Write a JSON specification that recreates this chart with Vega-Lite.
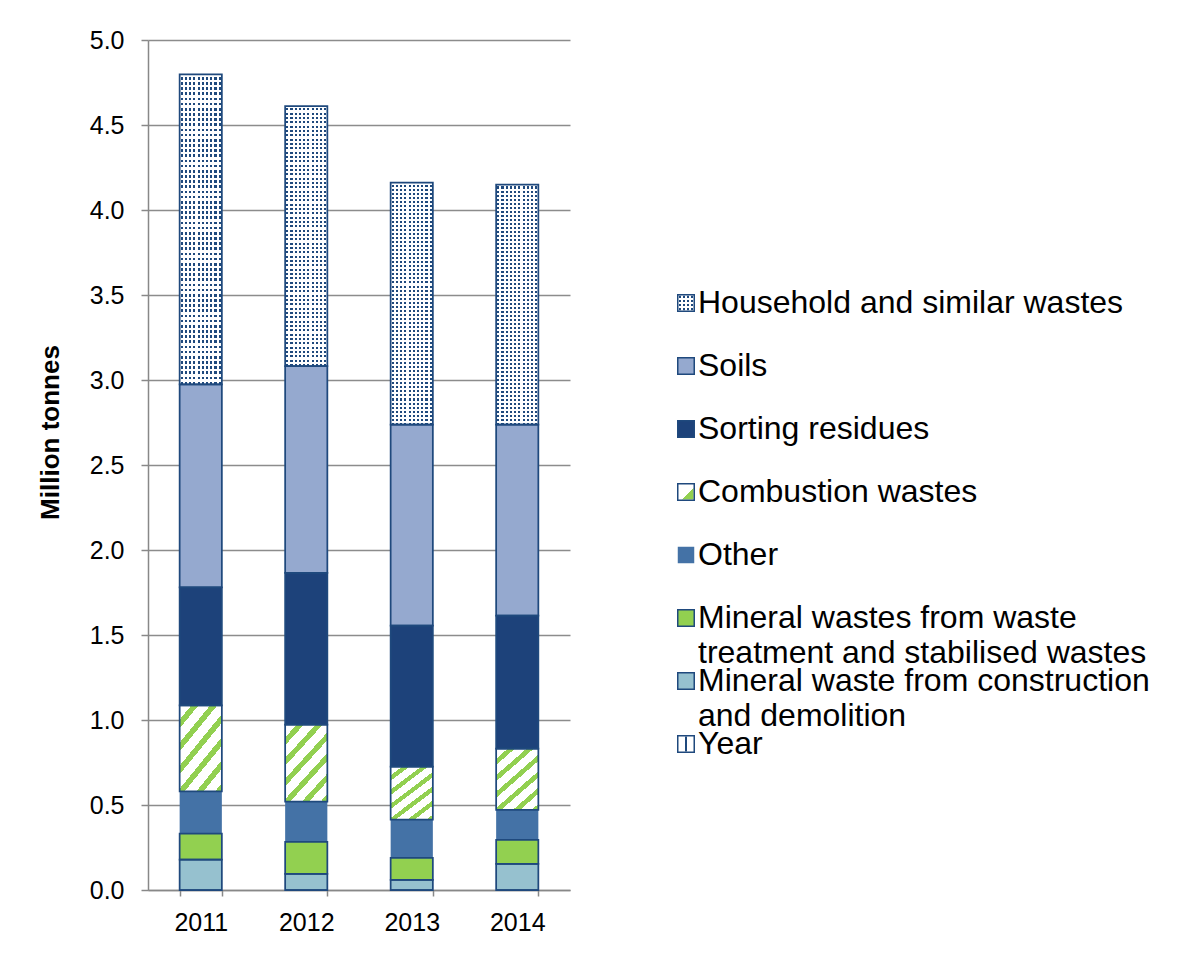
{
  "$schema": "https://vega.github.io/schema/vega-lite/v6.json",
  "background": "white",
  "padding": {"left": 37, "top": 28, "right": 5, "bottom": 5},
  "bounds": "flush",
  "spacing": 107,
  "config": {
    "font": "Liberation Sans",
    "view": {"stroke": null},
    "axis": {"labelColor": "#000", "titleColor": "#000", "labelFont": "Liberation Sans", "titleFont": "Liberation Sans"}
  },
  "data": {
    "values": [
      {"year": "2011", "category": "Year", "value": 0},
      {"year": "2011", "category": "Mineral waste from construction\nand demolition", "value": 0.178},
      {"year": "2011", "category": "Mineral wastes from waste\ntreatment and stabilised wastes", "value": 0.153},
      {"year": "2011", "category": "Other", "value": 0.249},
      {"year": "2011", "category": "Combustion wastes", "value": 0.506},
      {"year": "2011", "category": "Sorting residues", "value": 0.694},
      {"year": "2011", "category": "Soils", "value": 1.194},
      {"year": "2011", "category": "Household and similar wastes", "value": 1.824},
      {"year": "2012", "category": "Year", "value": 0},
      {"year": "2012", "category": "Mineral waste from construction\nand demolition", "value": 0.095},
      {"year": "2012", "category": "Mineral wastes from waste\ntreatment and stabilised wastes", "value": 0.188},
      {"year": "2012", "category": "Other", "value": 0.237},
      {"year": "2012", "category": "Combustion wastes", "value": 0.453},
      {"year": "2012", "category": "Sorting residues", "value": 0.893},
      {"year": "2012", "category": "Soils", "value": 1.216},
      {"year": "2012", "category": "Household and similar wastes", "value": 1.529},
      {"year": "2013", "category": "Year", "value": 0},
      {"year": "2013", "category": "Mineral waste from construction\nand demolition", "value": 0.06},
      {"year": "2013", "category": "Mineral wastes from waste\ntreatment and stabilised wastes", "value": 0.129},
      {"year": "2013", "category": "Other", "value": 0.225},
      {"year": "2013", "category": "Combustion wastes", "value": 0.312},
      {"year": "2013", "category": "Sorting residues", "value": 0.829},
      {"year": "2013", "category": "Soils", "value": 1.182},
      {"year": "2013", "category": "Household and similar wastes", "value": 1.424},
      {"year": "2014", "category": "Year", "value": 0},
      {"year": "2014", "category": "Mineral waste from construction\nand demolition", "value": 0.154},
      {"year": "2014", "category": "Mineral wastes from waste\ntreatment and stabilised wastes", "value": 0.141},
      {"year": "2014", "category": "Other", "value": 0.176},
      {"year": "2014", "category": "Combustion wastes", "value": 0.361},
      {"year": "2014", "category": "Sorting residues", "value": 0.782},
      {"year": "2014", "category": "Soils", "value": 1.124},
      {"year": "2014", "category": "Household and similar wastes", "value": 1.412}
    ]
  },
  "hconcat": [
    {
      "width": 422,
      "height": 850,
      "transform": [{"stack": "value", "groupby": ["year"], "as": ["v0", "v1"]}],
      "encoding": {
        "x": {
          "field": "year", "type": "ordinal",
          "scale": {"paddingInner": 0.6, "paddingOuter": 0.3},
          "axis": {"title": null, "labelAngle": 0, "labelFontSize": 25, "labelPadding": 14, "tickSize": 6, "tickColor": "#888", "tickWidth": 1.5, "domainColor": "#888", "domainWidth": 1.5, "tickBand": "extent", "grid": false}
        },
        "y": {
          "field": "v0", "type": "quantitative",
          "scale": {"domain": [0, 5], "nice": false},
          "axis": {"values": [0, 0.5, 1, 1.5, 2, 2.5, 3, 3.5, 4, 4.5, 5], "format": ".1f", "labelFontSize": 25, "labelPadding": 17, "tickSize": 7, "tickColor": "#888", "tickWidth": 1.5, "domainColor": "#888", "domainWidth": 1.5, "gridColor": "#8c8c8c", "gridWidth": 1.5, "title": "Million tonnes", "titleFontSize": 26, "titleFontWeight": "bold", "titleX": -98, "titleY": 392, "titleBaseline": "middle", "titleAlign": "center", "titleAngle": -90}
        },
        "y2": {"field": "v1"}
      },
      "layer": [
        {
          "mark": {"type": "bar"},
          "encoding": {
            "color": {
              "field": "category", "type": "nominal", "legend": null,
              "scale": {
                "domain": ["Household and similar wastes", "Soils", "Sorting residues", "Combustion wastes", "Other", "Mineral wastes from waste\ntreatment and stabilised wastes", "Mineral waste from construction\nand demolition", "Year"],
                "range": ["#ffffff", "#95a9cf", "#1d427a", "#ffffff", "#4472a6", "#92d050", "#96c1cf", "#ffffff"]
              }
            }
          }
        },
        {
          "transform": [{"filter": "datum.category === 'Household and similar wastes'"}],
          "mark": {"type": "bar", "fill": {"gradient": "linear", "x1": 0, "y1": 0, "x2": 1, "y2": 0, "stops": [
            {"offset": 0, "color": "#fff"}, {"offset": 0.025, "color": "#fff"},
            {"offset": 0.025, "color": "#1f497d"}, {"offset": 0.075, "color": "#1f497d"}, {"offset": 0.075, "color": "#fff"}, {"offset": 0.125, "color": "#fff"},
            {"offset": 0.125, "color": "#1f497d"}, {"offset": 0.175, "color": "#1f497d"}, {"offset": 0.175, "color": "#fff"}, {"offset": 0.225, "color": "#fff"},
            {"offset": 0.225, "color": "#1f497d"}, {"offset": 0.275, "color": "#1f497d"}, {"offset": 0.275, "color": "#fff"}, {"offset": 0.325, "color": "#fff"},
            {"offset": 0.325, "color": "#1f497d"}, {"offset": 0.375, "color": "#1f497d"}, {"offset": 0.375, "color": "#fff"}, {"offset": 0.425, "color": "#fff"},
            {"offset": 0.425, "color": "#1f497d"}, {"offset": 0.475, "color": "#1f497d"}, {"offset": 0.475, "color": "#fff"}, {"offset": 0.525, "color": "#fff"},
            {"offset": 0.525, "color": "#1f497d"}, {"offset": 0.575, "color": "#1f497d"}, {"offset": 0.575, "color": "#fff"}, {"offset": 0.625, "color": "#fff"},
            {"offset": 0.625, "color": "#1f497d"}, {"offset": 0.675, "color": "#1f497d"}, {"offset": 0.675, "color": "#fff"}, {"offset": 0.725, "color": "#fff"},
            {"offset": 0.725, "color": "#1f497d"}, {"offset": 0.775, "color": "#1f497d"}, {"offset": 0.775, "color": "#fff"}, {"offset": 0.825, "color": "#fff"},
            {"offset": 0.825, "color": "#1f497d"}, {"offset": 0.875, "color": "#1f497d"}, {"offset": 0.875, "color": "#fff"}, {"offset": 0.925, "color": "#fff"},
            {"offset": 0.925, "color": "#1f497d"}, {"offset": 0.975, "color": "#1f497d"}, {"offset": 0.975, "color": "#fff"}, {"offset": 1, "color": "#fff"}
          ]}}
        },
        {
          "transform": [{"filter": "datum.category === 'Household and similar wastes'"}],
          "mark": {"type": "bar", "fill": {"gradient": "linear", "x1": 0, "y1": 0, "x2": 0, "y2": 1, "stops": [
            {"offset": 0, "color": "#fff"}, {"offset": 0.00833, "color": "#fff"}, {"offset": 0.00833, "color": "transparent"}, {"offset": 0.01667, "color": "transparent"},
            {"offset": 0.01667, "color": "#fff"}, {"offset": 0.025, "color": "#fff"}, {"offset": 0.025, "color": "transparent"}, {"offset": 0.03333, "color": "transparent"},
            {"offset": 0.03333, "color": "#fff"}, {"offset": 0.04167, "color": "#fff"}, {"offset": 0.04167, "color": "transparent"}, {"offset": 0.05, "color": "transparent"},
            {"offset": 0.05, "color": "#fff"}, {"offset": 0.05833, "color": "#fff"}, {"offset": 0.05833, "color": "transparent"}, {"offset": 0.06667, "color": "transparent"},
            {"offset": 0.06667, "color": "#fff"}, {"offset": 0.075, "color": "#fff"}, {"offset": 0.075, "color": "transparent"}, {"offset": 0.08333, "color": "transparent"},
            {"offset": 0.08333, "color": "#fff"}, {"offset": 0.09167, "color": "#fff"}, {"offset": 0.09167, "color": "transparent"}, {"offset": 0.1, "color": "transparent"},
            {"offset": 0.1, "color": "#fff"}, {"offset": 0.10833, "color": "#fff"}, {"offset": 0.10833, "color": "transparent"}, {"offset": 0.11667, "color": "transparent"},
            {"offset": 0.11667, "color": "#fff"}, {"offset": 0.125, "color": "#fff"}, {"offset": 0.125, "color": "transparent"}, {"offset": 0.13333, "color": "transparent"},
            {"offset": 0.13333, "color": "#fff"}, {"offset": 0.14167, "color": "#fff"}, {"offset": 0.14167, "color": "transparent"}, {"offset": 0.15, "color": "transparent"},
            {"offset": 0.15, "color": "#fff"}, {"offset": 0.15833, "color": "#fff"}, {"offset": 0.15833, "color": "transparent"}, {"offset": 0.16667, "color": "transparent"},
            {"offset": 0.16667, "color": "#fff"}, {"offset": 0.175, "color": "#fff"}, {"offset": 0.175, "color": "transparent"}, {"offset": 0.18333, "color": "transparent"},
            {"offset": 0.18333, "color": "#fff"}, {"offset": 0.19167, "color": "#fff"}, {"offset": 0.19167, "color": "transparent"}, {"offset": 0.2, "color": "transparent"},
            {"offset": 0.2, "color": "#fff"}, {"offset": 0.20833, "color": "#fff"}, {"offset": 0.20833, "color": "transparent"}, {"offset": 0.21667, "color": "transparent"},
            {"offset": 0.21667, "color": "#fff"}, {"offset": 0.225, "color": "#fff"}, {"offset": 0.225, "color": "transparent"}, {"offset": 0.23333, "color": "transparent"},
            {"offset": 0.23333, "color": "#fff"}, {"offset": 0.24167, "color": "#fff"}, {"offset": 0.24167, "color": "transparent"}, {"offset": 0.25, "color": "transparent"},
            {"offset": 0.25, "color": "#fff"}, {"offset": 0.25833, "color": "#fff"}, {"offset": 0.25833, "color": "transparent"}, {"offset": 0.26667, "color": "transparent"},
            {"offset": 0.26667, "color": "#fff"}, {"offset": 0.275, "color": "#fff"}, {"offset": 0.275, "color": "transparent"}, {"offset": 0.28333, "color": "transparent"},
            {"offset": 0.28333, "color": "#fff"}, {"offset": 0.29167, "color": "#fff"}, {"offset": 0.29167, "color": "transparent"}, {"offset": 0.3, "color": "transparent"},
            {"offset": 0.3, "color": "#fff"}, {"offset": 0.30833, "color": "#fff"}, {"offset": 0.30833, "color": "transparent"}, {"offset": 0.31667, "color": "transparent"},
            {"offset": 0.31667, "color": "#fff"}, {"offset": 0.325, "color": "#fff"}, {"offset": 0.325, "color": "transparent"}, {"offset": 0.33333, "color": "transparent"},
            {"offset": 0.33333, "color": "#fff"}, {"offset": 0.34167, "color": "#fff"}, {"offset": 0.34167, "color": "transparent"}, {"offset": 0.35, "color": "transparent"},
            {"offset": 0.35, "color": "#fff"}, {"offset": 0.35833, "color": "#fff"}, {"offset": 0.35833, "color": "transparent"}, {"offset": 0.36667, "color": "transparent"},
            {"offset": 0.36667, "color": "#fff"}, {"offset": 0.375, "color": "#fff"}, {"offset": 0.375, "color": "transparent"}, {"offset": 0.38333, "color": "transparent"},
            {"offset": 0.38333, "color": "#fff"}, {"offset": 0.39167, "color": "#fff"}, {"offset": 0.39167, "color": "transparent"}, {"offset": 0.4, "color": "transparent"},
            {"offset": 0.4, "color": "#fff"}, {"offset": 0.40833, "color": "#fff"}, {"offset": 0.40833, "color": "transparent"}, {"offset": 0.41667, "color": "transparent"},
            {"offset": 0.41667, "color": "#fff"}, {"offset": 0.425, "color": "#fff"}, {"offset": 0.425, "color": "transparent"}, {"offset": 0.43333, "color": "transparent"},
            {"offset": 0.43333, "color": "#fff"}, {"offset": 0.44167, "color": "#fff"}, {"offset": 0.44167, "color": "transparent"}, {"offset": 0.45, "color": "transparent"},
            {"offset": 0.45, "color": "#fff"}, {"offset": 0.45833, "color": "#fff"}, {"offset": 0.45833, "color": "transparent"}, {"offset": 0.46667, "color": "transparent"},
            {"offset": 0.46667, "color": "#fff"}, {"offset": 0.475, "color": "#fff"}, {"offset": 0.475, "color": "transparent"}, {"offset": 0.48333, "color": "transparent"},
            {"offset": 0.48333, "color": "#fff"}, {"offset": 0.49167, "color": "#fff"}, {"offset": 0.49167, "color": "transparent"}, {"offset": 0.5, "color": "transparent"},
            {"offset": 0.5, "color": "#fff"}, {"offset": 0.50833, "color": "#fff"}, {"offset": 0.50833, "color": "transparent"}, {"offset": 0.51667, "color": "transparent"},
            {"offset": 0.51667, "color": "#fff"}, {"offset": 0.525, "color": "#fff"}, {"offset": 0.525, "color": "transparent"}, {"offset": 0.53333, "color": "transparent"},
            {"offset": 0.53333, "color": "#fff"}, {"offset": 0.54167, "color": "#fff"}, {"offset": 0.54167, "color": "transparent"}, {"offset": 0.55, "color": "transparent"},
            {"offset": 0.55, "color": "#fff"}, {"offset": 0.55833, "color": "#fff"}, {"offset": 0.55833, "color": "transparent"}, {"offset": 0.56667, "color": "transparent"},
            {"offset": 0.56667, "color": "#fff"}, {"offset": 0.575, "color": "#fff"}, {"offset": 0.575, "color": "transparent"}, {"offset": 0.58333, "color": "transparent"},
            {"offset": 0.58333, "color": "#fff"}, {"offset": 0.59167, "color": "#fff"}, {"offset": 0.59167, "color": "transparent"}, {"offset": 0.6, "color": "transparent"},
            {"offset": 0.6, "color": "#fff"}, {"offset": 0.60833, "color": "#fff"}, {"offset": 0.60833, "color": "transparent"}, {"offset": 0.61667, "color": "transparent"},
            {"offset": 0.61667, "color": "#fff"}, {"offset": 0.625, "color": "#fff"}, {"offset": 0.625, "color": "transparent"}, {"offset": 0.63333, "color": "transparent"},
            {"offset": 0.63333, "color": "#fff"}, {"offset": 0.64167, "color": "#fff"}, {"offset": 0.64167, "color": "transparent"}, {"offset": 0.65, "color": "transparent"},
            {"offset": 0.65, "color": "#fff"}, {"offset": 0.65833, "color": "#fff"}, {"offset": 0.65833, "color": "transparent"}, {"offset": 0.66667, "color": "transparent"},
            {"offset": 0.66667, "color": "#fff"}, {"offset": 0.675, "color": "#fff"}, {"offset": 0.675, "color": "transparent"}, {"offset": 0.68333, "color": "transparent"},
            {"offset": 0.68333, "color": "#fff"}, {"offset": 0.69167, "color": "#fff"}, {"offset": 0.69167, "color": "transparent"}, {"offset": 0.7, "color": "transparent"},
            {"offset": 0.7, "color": "#fff"}, {"offset": 0.70833, "color": "#fff"}, {"offset": 0.70833, "color": "transparent"}, {"offset": 0.71667, "color": "transparent"},
            {"offset": 0.71667, "color": "#fff"}, {"offset": 0.725, "color": "#fff"}, {"offset": 0.725, "color": "transparent"}, {"offset": 0.73333, "color": "transparent"},
            {"offset": 0.73333, "color": "#fff"}, {"offset": 0.74167, "color": "#fff"}, {"offset": 0.74167, "color": "transparent"}, {"offset": 0.75, "color": "transparent"},
            {"offset": 0.75, "color": "#fff"}, {"offset": 0.75833, "color": "#fff"}, {"offset": 0.75833, "color": "transparent"}, {"offset": 0.76667, "color": "transparent"},
            {"offset": 0.76667, "color": "#fff"}, {"offset": 0.775, "color": "#fff"}, {"offset": 0.775, "color": "transparent"}, {"offset": 0.78333, "color": "transparent"},
            {"offset": 0.78333, "color": "#fff"}, {"offset": 0.79167, "color": "#fff"}, {"offset": 0.79167, "color": "transparent"}, {"offset": 0.8, "color": "transparent"},
            {"offset": 0.8, "color": "#fff"}, {"offset": 0.80833, "color": "#fff"}, {"offset": 0.80833, "color": "transparent"}, {"offset": 0.81667, "color": "transparent"},
            {"offset": 0.81667, "color": "#fff"}, {"offset": 0.825, "color": "#fff"}, {"offset": 0.825, "color": "transparent"}, {"offset": 0.83333, "color": "transparent"},
            {"offset": 0.83333, "color": "#fff"}, {"offset": 0.84167, "color": "#fff"}, {"offset": 0.84167, "color": "transparent"}, {"offset": 0.85, "color": "transparent"},
            {"offset": 0.85, "color": "#fff"}, {"offset": 0.85833, "color": "#fff"}, {"offset": 0.85833, "color": "transparent"}, {"offset": 0.86667, "color": "transparent"},
            {"offset": 0.86667, "color": "#fff"}, {"offset": 0.875, "color": "#fff"}, {"offset": 0.875, "color": "transparent"}, {"offset": 0.88333, "color": "transparent"},
            {"offset": 0.88333, "color": "#fff"}, {"offset": 0.89167, "color": "#fff"}, {"offset": 0.89167, "color": "transparent"}, {"offset": 0.9, "color": "transparent"},
            {"offset": 0.9, "color": "#fff"}, {"offset": 0.90833, "color": "#fff"}, {"offset": 0.90833, "color": "transparent"}, {"offset": 0.91667, "color": "transparent"},
            {"offset": 0.91667, "color": "#fff"}, {"offset": 0.925, "color": "#fff"}, {"offset": 0.925, "color": "transparent"}, {"offset": 0.93333, "color": "transparent"},
            {"offset": 0.93333, "color": "#fff"}, {"offset": 0.94167, "color": "#fff"}, {"offset": 0.94167, "color": "transparent"}, {"offset": 0.95, "color": "transparent"},
            {"offset": 0.95, "color": "#fff"}, {"offset": 0.95833, "color": "#fff"}, {"offset": 0.95833, "color": "transparent"}, {"offset": 0.96667, "color": "transparent"},
            {"offset": 0.96667, "color": "#fff"}, {"offset": 0.975, "color": "#fff"}, {"offset": 0.975, "color": "transparent"}, {"offset": 0.98333, "color": "transparent"},
            {"offset": 0.98333, "color": "#fff"}, {"offset": 0.99167, "color": "#fff"}, {"offset": 0.99167, "color": "transparent"}, {"offset": 1, "color": "transparent"}
          ]}}
        },
        {
          "transform": [{"filter": "datum.category === 'Combustion wastes'"}],
          "mark": {"type": "bar", "fill": {"gradient": "linear", "x1": 0, "y1": 0, "x2": 0.708, "y2": 1.18, "stops": [
            {"offset": 0, "color": "#fff"}, {"offset": 0.1033, "color": "#fff"}, {"offset": 0.1033, "color": "#92d050"}, {"offset": 0.1667, "color": "#92d050"},
            {"offset": 0.1667, "color": "#fff"}, {"offset": 0.27, "color": "#fff"}, {"offset": 0.27, "color": "#92d050"}, {"offset": 0.3333, "color": "#92d050"},
            {"offset": 0.3333, "color": "#fff"}, {"offset": 0.4367, "color": "#fff"}, {"offset": 0.4367, "color": "#92d050"}, {"offset": 0.5, "color": "#92d050"},
            {"offset": 0.5, "color": "#fff"}, {"offset": 0.6033, "color": "#fff"}, {"offset": 0.6033, "color": "#92d050"}, {"offset": 0.6667, "color": "#92d050"},
            {"offset": 0.6667, "color": "#fff"}, {"offset": 0.77, "color": "#fff"}, {"offset": 0.77, "color": "#92d050"}, {"offset": 0.8333, "color": "#92d050"},
            {"offset": 0.8333, "color": "#fff"}, {"offset": 0.9367, "color": "#fff"}, {"offset": 0.9367, "color": "#92d050"}, {"offset": 1, "color": "#92d050"}
          ]}}
        },
        {
          "mark": {"type": "bar", "fill": "transparent", "stroke": "#1f497d", "strokeWidth": 1.75},
          "encoding": {"strokeOpacity": {"condition": {"test": "datum.category === 'Other'", "value": 0}, "value": 1}}
        }
      ]
    },
    {
      "width": 18,
      "height": 850,
      "transform": [{"aggregate": [{"op": "sum", "field": "value", "as": "total"}], "groupby": ["category"]}],
      "encoding": {
        "y": {
          "field": "category", "type": "nominal", "axis": null,
          "scale": {
            "type": "point",
            "domain": ["Household and similar wastes", "Soils", "Sorting residues", "Combustion wastes", "Other", "Mineral wastes from waste\ntreatment and stabilised wastes", "Mineral waste from construction\nand demolition", "Year"],
            "padding": 0,
            "range": [263, 704]
          }
        }
      },
      "layer": [
        {
          "mark": {"type": "square", "size": 272, "opacity": 1, "filled": true},
          "encoding": {
            "color": {
              "field": "category", "type": "nominal", "legend": null,
              "scale": {
                "domain": ["Household and similar wastes", "Soils", "Sorting residues", "Combustion wastes", "Other", "Mineral wastes from waste\ntreatment and stabilised wastes", "Mineral waste from construction\nand demolition", "Year"],
                "range": ["#ffffff", "#95a9cf", "#1d427a", "#ffffff", "#4472a6", "#92d050", "#96c1cf", "#ffffff"]
              }
            }
          }
        },
        {
          "transform": [{"filter": "datum.category === 'Household and similar wastes'"}],
          "mark": {"type": "square", "size": 225, "opacity": 1, "fill": {"gradient": "linear", "x1": 0, "y1": 0, "x2": 1, "y2": 0, "stops": [
            {"offset": 0, "color": "#fff"}, {"offset": 0.0625, "color": "#fff"}, {"offset": 0.0625, "color": "#1f497d"}, {"offset": 0.1875, "color": "#1f497d"},
            {"offset": 0.1875, "color": "#fff"}, {"offset": 0.3125, "color": "#fff"}, {"offset": 0.3125, "color": "#1f497d"}, {"offset": 0.4375, "color": "#1f497d"},
            {"offset": 0.4375, "color": "#fff"}, {"offset": 0.5625, "color": "#fff"}, {"offset": 0.5625, "color": "#1f497d"}, {"offset": 0.6875, "color": "#1f497d"},
            {"offset": 0.6875, "color": "#fff"}, {"offset": 0.8125, "color": "#fff"}, {"offset": 0.8125, "color": "#1f497d"}, {"offset": 0.9375, "color": "#1f497d"},
            {"offset": 0.9375, "color": "#fff"}, {"offset": 1, "color": "#fff"}
          ]}}
        },
        {
          "transform": [{"filter": "datum.category === 'Household and similar wastes'"}],
          "mark": {"type": "square", "size": 225, "opacity": 1, "fill": {"gradient": "linear", "x1": 0, "y1": 0, "x2": 0, "y2": 1, "stops": [
            {"offset": 0, "color": "#fff"}, {"offset": 0.0625, "color": "#fff"}, {"offset": 0.0625, "color": "transparent"}, {"offset": 0.1875, "color": "transparent"},
            {"offset": 0.1875, "color": "#fff"}, {"offset": 0.3125, "color": "#fff"}, {"offset": 0.3125, "color": "transparent"}, {"offset": 0.4375, "color": "transparent"},
            {"offset": 0.4375, "color": "#fff"}, {"offset": 0.5625, "color": "#fff"}, {"offset": 0.5625, "color": "transparent"}, {"offset": 0.6875, "color": "transparent"},
            {"offset": 0.6875, "color": "#fff"}, {"offset": 0.8125, "color": "#fff"}, {"offset": 0.8125, "color": "transparent"}, {"offset": 0.9375, "color": "transparent"},
            {"offset": 0.9375, "color": "#fff"}, {"offset": 1, "color": "#fff"}
          ]}}
        },
        {
          "transform": [{"filter": "datum.category === 'Combustion wastes'"}],
          "mark": {"type": "square", "size": 225, "opacity": 1, "fill": {"gradient": "linear", "x1": 0, "y1": 0, "x2": 1, "y2": 1, "stops": [
            {"offset": 0, "color": "#fff"}, {"offset": 0.6, "color": "#fff"}, {"offset": 0.6, "color": "#92d050"}, {"offset": 1, "color": "#92d050"}
          ]}}
        },
        {
          "transform": [{"filter": "datum.category === 'Year'"}],
          "mark": {"type": "square", "size": 225, "opacity": 1, "fill": {"gradient": "linear", "x1": 0, "y1": 0, "x2": 1, "y2": 0, "stops": [
            {"offset": 0, "color": "#fff"}, {"offset": 0.42, "color": "#fff"}, {"offset": 0.42, "color": "#1f497d"}, {"offset": 0.58, "color": "#1f497d"},
            {"offset": 0.58, "color": "#fff"}, {"offset": 1, "color": "#fff"}
          ]}}
        },
        {
          "mark": {"type": "square", "size": 272, "opacity": 1, "fill": "transparent", "stroke": "#1f497d", "strokeWidth": 1.5},
          "encoding": {"strokeOpacity": {"condition": {"test": "datum.category === 'Other'", "value": 0}, "value": 1}}
        },
        {
          "mark": {"type": "text", "align": "left", "baseline": "alphabetic", "dx": 12, "dy": 10, "fontSize": 32, "lineBreak": "\n", "lineHeight": 35, "color": "#000", "font": "Liberation Sans"},
          "encoding": {"text": {"field": "category"}}
        }
      ]
    }
  ]
}
